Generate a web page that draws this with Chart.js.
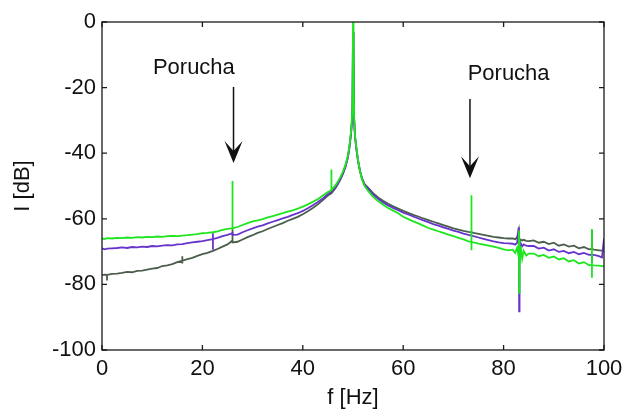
<!DOCTYPE html>
<html>
<head>
<meta charset="utf-8">
<script src="https://cdn.jsdelivr.net/npm/chart.js@4.4.1/dist/chart.umd.min.js"></script>
<style>
  html, body { margin: 0; padding: 0; background: #fff; }
  #wrap { width: 636px; height: 412px; position: relative; }
</style>
</head>
<body>
<div id="wrap"><canvas id="spectrum"></canvas></div>
<script>
// frequency grid (Hz) - repeated values make the vertical spikes
const freq = [
  0, 0.5, 1, 1, 1,
  2, 3, 4, 5, 6, 7, 8, 9, 10, 11, 12, 13, 14, 15,
  16, 16, 16, 16,
  17, 18, 19, 20, 21,
  22.1, 22.1, 22.1, 22.1,
  23, 24, 25,
  26, 26, 26, 26,
  27, 28, 29, 30, 31, 32, 33, 34, 35, 36, 37, 38, 39, 40, 41, 42, 43, 44, 45,
  45.7, 45.7, 45.7,
  46.5, 47, 47.5, 48, 48.5, 49, 49.3, 49.6, 49.8, 49.9,
  50, 50.1, 50.2, 50.4, 50.7, 51, 51.4, 51.8, 52.3,
  53, 54, 55, 56, 57, 58, 59, 60, 61, 62, 63, 64, 65, 66, 67, 68, 69, 70, 71, 72, 73,
  73.6, 73.6, 73.6, 73.6,
  74, 75, 76, 77, 78, 79, 80, 81,
  81.8, 82.3, 82.7, 83, 83.05, 83.1, 83.15, 83.2, 83.4, 83.7, 84, 84.5, 85,
  86, 87, 88, 89, 90, 91, 92, 93, 94, 95, 96, 97,
  97.6, 97.6, 97.6, 97.6,
  98, 99, 99.6, 100
];

// light green trace (dB)
const greenDb = [
  -66.0, -66.2, -65.9, -65.9, -65.9,
  -66.0, -65.8, -65.9, -65.7, -65.8, -65.6, -65.7, -65.5, -65.6, -65.4, -65.5, -65.3, -65.2, -65.3,
  -65.1, -65.1, -65.1, -65.1,
  -65.0, -64.8, -64.7, -64.4, -64.3,
  -64.1, -64.1, -64.1, -64.1,
  -63.8, -63.4, -63.1,
  -62.9, -48.5, -62.9, -62.9,
  -62.5, -61.9, -61.3, -60.8, -60.5, -60.1, -59.6, -59.2, -58.7, -58.3, -57.8, -57.4, -56.9, -56.3, -55.6, -54.8, -54.0, -52.9, -51.8,
  -51.2, -45.0, -51.2,
  -49.8, -48.6, -47.2, -45.6, -43.5, -40.6, -37.6, -33.5, -29.0, -25.0,
  0, -5, -28, -34.5, -38.5, -42.0, -45.5, -48.0, -50.0,
  -51.5, -53.3, -54.6, -55.7, -56.7, -57.5, -58.3, -59.4, -60.1, -60.8, -61.4, -62.1, -62.8, -63.3, -63.8, -64.3, -64.8, -65.3, -65.8, -66.3, -66.9,
  -67.1, -52.8, -69.6, -67.1,
  -67.2, -67.6, -67.9, -68.2, -68.5, -68.9, -69.3, -69.6,
  -69.4, -70.4, -68.8, -71.5, -63.6, -82.6, -66.0, -74.5, -68.5, -72.2, -69.8, -71.2, -70.6,
  -70.6, -71.4, -71.0, -71.9, -71.5, -72.4, -72.0, -73.0, -72.6, -73.6, -73.2, -74.1,
  -74.1, -63.1, -78.0, -74.1,
  -74.2, -74.3, -74.4, -74.4
];

// purple trace (dB)
const purpleDb = [
  -69.0, -69.3, -69.1, -69.1, -69.1,
  -69.0, -68.9, -68.7, -68.9, -68.6, -68.7, -68.5, -68.6, -68.3, -68.4, -68.2, -68.0, -68.1, -67.8,
  -67.7, -67.7, -67.7, -67.7,
  -67.4, -67.2, -67.0, -66.8, -66.5,
  -66.2, -64.4, -69.4, -66.2,
  -65.8, -65.3, -64.9,
  -64.4, -64.0, -64.9, -64.9,
  -64.8, -64.1, -63.5, -62.9, -62.4, -62.0, -61.4, -60.9, -60.4, -59.9, -59.4, -58.8, -58.3, -57.6, -56.8, -55.9, -54.9, -53.8, -52.4,
  -51.8, -51.8, -51.8,
  -50.4, -49.2, -47.8, -46.1, -44.0, -41.0, -38.0, -34.0, -30.0, -26.0,
  -3, -8, -29, -35, -39, -42.3, -45.5, -47.8, -49.6,
  -50.8, -52.6, -53.9, -55.0, -55.9, -56.7, -57.4, -58.1, -58.7, -59.3, -59.9, -60.5, -61.0, -61.6, -62.1, -62.6, -63.1, -63.6, -64.0, -64.5, -64.9,
  -65.1, -65.1, -65.1, -65.1,
  -65.3, -65.7, -66.1, -66.5, -66.9, -67.2, -67.4, -67.5,
  -67.6, -67.9, -67.3, -62.6, -68.5, -88.2, -67.0, -69.5, -67.4, -68.4, -67.8, -68.2, -68.3,
  -68.3, -69.1, -68.8, -69.7, -69.3, -70.1, -69.8, -70.5, -70.1, -70.8, -70.4, -71.0,
  -70.9, -70.9, -73.3, -70.9,
  -71.0, -71.4, -71.8, -66.0
];

// dark grey trace (dB)
const greyDb = [
  -77.2, -77.0, -77.1, -78.8, -77.1,
  -76.8, -76.7, -76.5, -76.2, -76.3, -75.9, -75.8, -75.5, -75.2, -75.0, -74.4, -74.2, -73.8, -73.2,
  -72.8, -71.4, -73.6, -72.8,
  -72.3, -71.9, -71.3, -70.8, -70.4,
  -69.8, -69.8, -69.8, -69.8,
  -69.2, -68.5, -67.8,
  -66.6, -63.2, -67.2, -67.2,
  -67.0, -66.3, -65.6, -65.0, -64.3, -63.8, -63.1, -62.5, -61.9, -61.3, -60.6, -60.0, -59.4, -58.6, -57.7, -56.7, -55.6, -54.3, -52.9,
  -52.2, -52.2, -52.2,
  -50.7, -49.4, -48.0, -46.3, -44.2, -41.2, -38.2, -34.2, -30.2, -26.2,
  -3, -8, -29, -35, -39, -42.3, -45.4, -47.6, -49.4,
  -50.5, -52.2, -53.5, -54.5, -55.4, -56.2, -56.9, -57.6, -58.2, -58.8, -59.3, -59.9, -60.4, -60.9, -61.4, -61.9, -62.4, -62.9, -63.3, -63.7, -64.0,
  -64.1, -64.1, -64.1, -64.1,
  -64.3, -64.6, -64.9, -65.2, -65.5, -65.7, -65.9, -66.0,
  -66.0, -66.2, -65.6, -63.6, -66.8, -67.5, -66.0, -66.9, -66.3, -66.6, -66.4, -66.7, -66.8,
  -66.6, -67.3, -67.0, -67.7, -67.3, -68.2, -67.8, -68.5, -68.2, -69.0, -68.6, -69.3,
  -69.2, -63.4, -69.2, -69.2,
  -69.4, -69.6, -69.7, -69.8
];

const xTicks = [0, 20, 40, 60, 80, 100];
const yTicks = [0, -20, -40, -60, -80, -100];

// "Porucha" labels: text position and arrow (f, dB from, dB tip)
const noteText = ['Porucha', 'Porucha'];
const noteF = [18.3, 81.0];
const noteDb = [-14.0, -15.7];
const arrowF = [26.2, 73.3];
const arrowFromDb = [-19.8, -23.5];
const arrowTipDb = [-43.0, -47.6];

const FONT = "'Liberation Sans', Arial, sans-serif";

function pts(ys) {
  return freq.map((f, i) => ({ x: f, y: ys[i] }));
}

// box frame, inward ticks and the annotations
const boxPlugin = {
  id: 'box',
  afterDatasetsDraw(chart) {
    const { ctx, chartArea: a, scales: { x, y } } = chart;
    ctx.save();
    ctx.strokeStyle = '#1a1a1a';
    ctx.lineWidth = 1.3;
    ctx.strokeRect(a.left, a.top, a.right - a.left, a.bottom - a.top);
    const tl = 5;
    ctx.beginPath();
    xTicks.forEach(v => {
      const px = x.getPixelForValue(v);
      ctx.moveTo(px, a.bottom); ctx.lineTo(px, a.bottom - tl);
      ctx.moveTo(px, a.top); ctx.lineTo(px, a.top + tl);
    });
    yTicks.forEach(v => {
      const py = y.getPixelForValue(v);
      ctx.moveTo(a.left, py); ctx.lineTo(a.left + tl, py);
      ctx.moveTo(a.right, py); ctx.lineTo(a.right - tl, py);
    });
    ctx.stroke();

    ctx.fillStyle = '#111';
    ctx.font = '22px ' + FONT;
    ctx.textAlign = 'center';
    ctx.textBaseline = 'middle';
    noteText.forEach((t, i) => {
      ctx.fillText(t, x.getPixelForValue(noteF[i]), y.getPixelForValue(noteDb[i]));
      const ax = x.getPixelForValue(arrowF[i]);
      const y0 = y.getPixelForValue(arrowFromDb[i]);
      const y1 = y.getPixelForValue(arrowTipDb[i]);
      ctx.strokeStyle = '#111';
      ctx.lineWidth = 1.5;
      ctx.beginPath();
      ctx.moveTo(ax, y0); ctx.lineTo(ax, y1 - 10);
      ctx.stroke();
      ctx.beginPath();
      ctx.moveTo(ax, y1);
      ctx.lineTo(ax - 9, y1 - 22);
      ctx.lineTo(ax, y1 - 12);
      ctx.lineTo(ax + 9, y1 - 22);
      ctx.closePath();
      ctx.fill();
    });
    ctx.restore();
  }
};

new Chart(document.getElementById('spectrum'), {
  type: 'line',
  data: {
    datasets: [
      { label: 'green', data: pts(greenDb), borderColor: '#1ee61e', borderWidth: 1.8 },
      { label: 'purple', data: pts(purpleDb), borderColor: '#6633cc', borderWidth: 1.8 },
      { label: 'grey', data: pts(greyDb), borderColor: '#4b5e4b', borderWidth: 1.8 }
    ]
  },
  options: {
    responsive: true,
    maintainAspectRatio: false,
    animation: false,
    events: [],
    elements: { point: { radius: 0 }, line: { tension: 0 } },
    layout: { padding: { top: 22, right: 32, left: 0, bottom: 0 } },
    plugins: { legend: { display: false }, tooltip: { enabled: false } },
    scales: {
      x: {
        type: 'linear', min: 0, max: 100,
        afterFit: s => { s.height = 62; },
        afterBuildTicks: s => { s.ticks = xTicks.map(v => ({ value: v })); },
        grid: { display: false, drawTicks: false },
        border: { display: false },
        ticks: { color: '#111', font: { size: 22, family: FONT }, padding: 6, maxRotation: 0 },
        title: { display: true, text: 'f [Hz]', color: '#111', font: { size: 22, family: FONT }, padding: { top: 0, bottom: 1 } }
      },
      y: {
        type: 'linear', min: -100, max: 0,
        afterFit: s => { s.width = 102; },
        afterBuildTicks: s => { s.ticks = yTicks.map(v => ({ value: v })); },
        grid: { display: false, drawTicks: false },
        border: { display: false },
        ticks: { color: '#111', font: { size: 22, family: FONT }, padding: 6 },
        title: { display: true, text: 'I [dB]', color: '#111', font: { size: 22, family: FONT }, padding: { top: 10, bottom: 0 } }
      }
    }
  },
  plugins: [boxPlugin]
});
</script>
</body>
</html>
